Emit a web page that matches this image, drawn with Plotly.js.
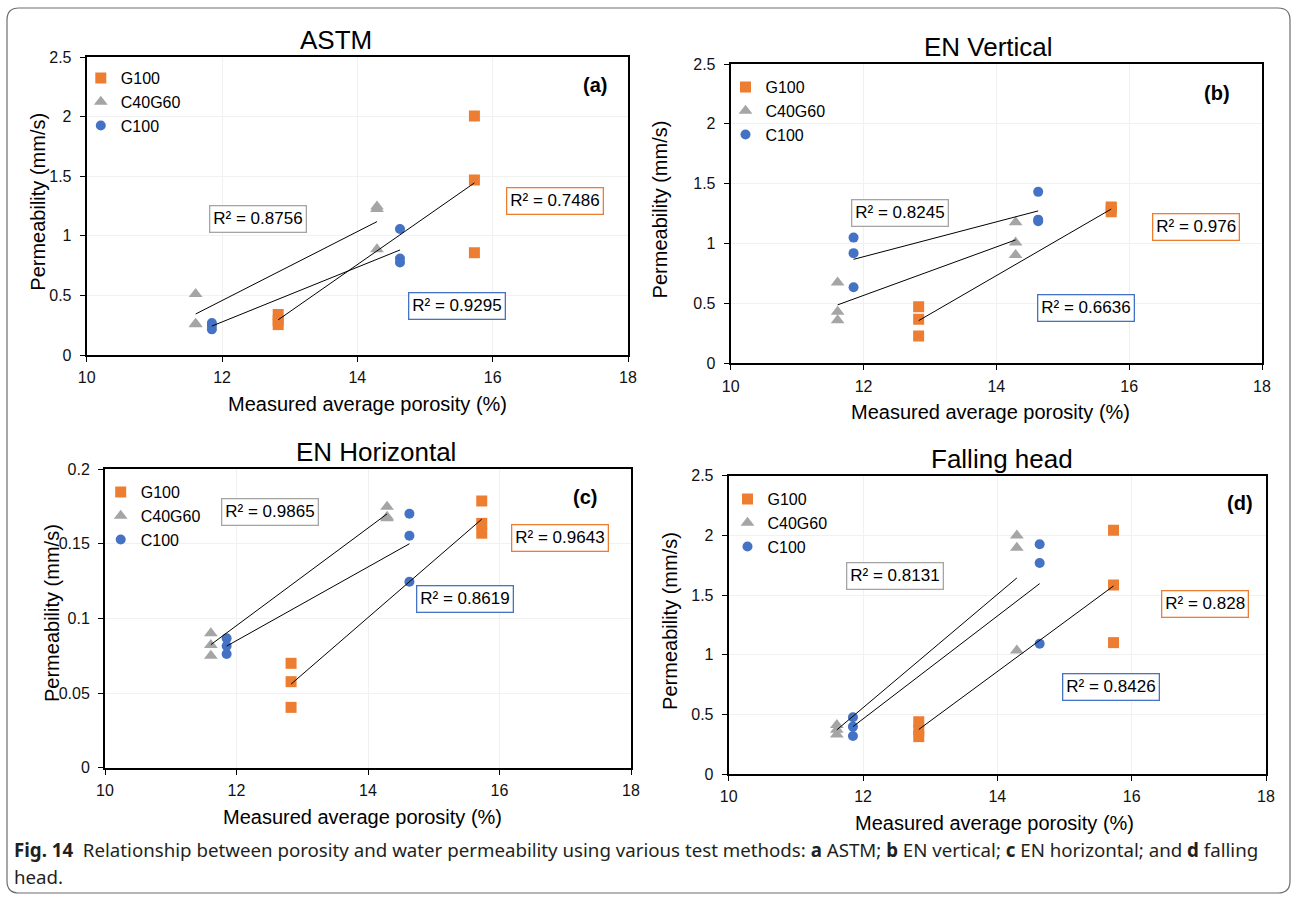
<!DOCTYPE html>
<html>
<head>
<meta charset="utf-8">
<script src="https://cdn.plot.ly/plotly-3.0.1.min.js"></script>
<style>
html,body{margin:0;padding:0;background:#ffffff;}
#chart{width:1293px;height:904px;}
</style>
</head>
<body>
<div id="chart"></div>
<script>
// ---------------- DATA ----------------
const mixNames = ['G100', 'C40G60', 'C100'];
const panelTitles = ['ASTM', 'EN Vertical', 'EN Horizontal', 'Falling head'];
const panelLetters = ['(a)', '(b)', '(c)', '(d)'];
const xTitle = 'Measured average porosity (%)';
const yTitle = 'Permeability (mm/s)';

// measured average porosity (%) of each specimen (3 replicates x 2 levels)
const porosityG100   = [12.83, 12.83, 12.83, 15.73, 15.73, 15.73];
const porosityC40G60 = [11.61, 11.61, 11.61, 14.29, 14.29, 14.29];
const porosityC100   = [11.85, 11.85, 11.85, 14.63, 14.63, 14.63];

// (a) ASTM permeability (mm/s)
const astmG100   = [0.340, 0.290, 0.255, 2.005, 1.468, 0.858];
const astmC40G60 = [0.512, 0.262, 0.258, 1.245, 1.225, 0.887];
const astmC100   = [0.268, 0.245, 0.215, 1.057, 0.810, 0.776];
const astmR2     = ['R² = 0.7486', 'R² = 0.8756', 'R² = 0.9295'];   // G100, C40G60, C100

// (b) EN vertical permeability (mm/s)
const envG100    = [0.473, 0.368, 0.228, 1.305, 1.295, 1.265];
const envC40G60  = [0.674, 0.430, 0.360, 1.179, 1.008, 0.905];
const envC100    = [1.050, 0.920, 0.635, 1.432, 1.200, 1.187];
const envR2      = ['R² = 0.976', 'R² = 0.8245', 'R² = 0.6636'];

// (c) EN horizontal permeability (mm/s)
const enhG100    = [0.0699, 0.0576, 0.0404, 0.1786, 0.1636, 0.1570];
const enhC40G60  = [0.0900, 0.0822, 0.0750, 0.1748, 0.1680, 0.1670];
const enhC100    = [0.0866, 0.0815, 0.0761, 0.1700, 0.1553, 0.1245];
const enhR2      = ['R² = 0.9643', 'R² = 0.9865', 'R² = 0.8619'];

// (d) Falling head permeability (mm/s)
const fhG100     = [0.438, 0.369, 0.313, 2.043, 1.584, 1.101];
const fhC40G60   = [0.410, 0.370, 0.330, 1.998, 1.897, 1.034];
const fhC100     = [0.475, 0.397, 0.318, 1.925, 1.769, 1.092];
const fhR2       = ['R² = 0.828', 'R² = 0.8131', 'R² = 0.8426'];

const xRange = [10, 18];
const yRanges = [[0, 2.5], [0, 2.5], [0, 0.2], [0, 2.5]];
const yDticks = [0.5, 0.5, 0.05, 0.5];

const caption1 = '<b>Fig. 14</b>\u00A0\u00A0Relationship between porosity and water permeability using various test methods: <b>a</b> ASTM; <b>b</b> EN vertical; <b>c</b> EN horizontal; and <b>d</b> falling';
const caption2 = 'head.';

// ---------------- STYLE / GEOMETRY ----------------
const W = 1293, H = 904;
const PX = v => v / W;
const PY = v => 1 - v / H;
const FONT = 'Liberation Sans, Arial, sans-serif';
const CAPFONT = 'Noto Sans, Open Sans, sans-serif';
const colors  = ['#ED7D31', '#A5A5A5', '#4472C4'];
const symbols = ['square', 'triangle-up', 'circle'];
const msizes  = [11, 12, 10];

// plot areas in pixels: left, right, top, bottom
const boxes = [
  {l: 86.7, r: 628, t: 57, b: 355},
  {l: 730.7, r: 1262, t: 64, b: 363.3},
  {l: 105, r: 631, t: 469, b: 767.7},
  {l: 728.7, r: 1266, t: 475.7, b: 774}
];
const titlePos  = [[336, 39.6], [988, 46.5], [375.8, 451.7], [1001.7, 458.5]];
const letterPos = [[595, 85.5], [1216.8, 93.3], [584.6, 496.7], [1239.8, 503.3]];
const xTitlePos = [[367.3, 404.3], [990.7, 411.7], [362.8, 816.7], [994, 823.3]];
const yTitlePos = [[37.7, 202], [660.4, 209], [52.7, 613.3], [669.2, 620.7]];
// R² box centers: G100 (orange), C40G60 (gray), C100 (blue)
const r2Pos = [
  [[554.5, 200.8], [258.3, 219.3], [457, 305.5]],
  [[1196, 227.5], [900, 213], [1085.9, 307.8]],
  [[559.5, 537.5], [269.7, 511.7], [464.6, 599.2]],
  [[1204.8, 603.8], [895.3, 575.7], [1110.9, 687]]
];
const legendPos = [[107.8, 75], [752.5, 84], [127.7, 489], [754.5, 496]];

const porosity = [porosityG100, porosityC40G60, porosityC100];
const panelData = [
  [astmG100, astmC40G60, astmC100],
  [envG100, envC40G60, envC100],
  [enhG100, enhC40G60, enhC100],
  [fhG100, fhC40G60, fhC100]
];
const panelR2 = [astmR2, envR2, enhR2, fhR2];

function fitLine(xs, ys) {
  const n = xs.length;
  const mx = xs.reduce((a, b) => a + b, 0) / n;
  const my = ys.reduce((a, b) => a + b, 0) / n;
  let sxy = 0, sxx = 0;
  for (let i = 0; i < n; i++) { sxy += (xs[i] - mx) * (ys[i] - my); sxx += (xs[i] - mx) ** 2; }
  const k = sxy / sxx, c = my - k * mx;
  const x0 = Math.min(...xs), x1 = Math.max(...xs);
  return {x: [x0, x1], y: [c + k * x0, c + k * x1]};
}

const traces = [];
const layout = {
  width: W, height: H,
  margin: {l: 0, r: 0, t: 0, b: 0},
  paper_bgcolor: '#ffffff', plot_bgcolor: '#ffffff',
  font: {family: FONT, color: '#000'},
  annotations: [], shapes: []
};

panelData.forEach((series, p) => {
  const sfx = p === 0 ? '' : String(p + 1);
  const legName = 'legend' + sfx;
  const bx = boxes[p];
  // markers
  series.forEach((ys, m) => {
    traces.push({
      type: 'scatter', mode: 'markers', name: mixNames[m],
      x: porosity[m], y: ys, xaxis: 'x' + sfx, yaxis: 'y' + sfx,
      legend: legName, showlegend: true, hoverinfo: 'skip',
      marker: {symbol: symbols[m], color: colors[m], size: msizes[m], line: {width: 0}}
    });
  });
  // linear trendlines
  series.forEach((ys, m) => {
    const f = fitLine(porosity[m], ys);
    traces.push({
      type: 'scatter', mode: 'lines', name: mixNames[m] + ' trend',
      x: f.x, y: f.y, xaxis: 'x' + sfx, yaxis: 'y' + sfx,
      showlegend: false, hoverinfo: 'skip',
      line: {color: '#000', width: 1}
    });
  });

  layout['xaxis' + sfx] = {
    domain: [PX(bx.l), PX(bx.r)], anchor: 'y' + sfx,
    range: xRange, dtick: 2, tick0: 10,
    showline: true, mirror: true, linecolor: '#000', linewidth: 2,
    ticks: 'outside', ticklen: 5, tickcolor: '#000', tickwidth: 1,
    tickfont: {family: FONT, size: 16, color: '#111'}, ticklabelstandoff: 2,
    showgrid: true, gridcolor: '#f1f1f1', gridwidth: 1, zeroline: false, fixedrange: true
  };
  layout['yaxis' + sfx] = {
    domain: [PY(bx.b), PY(bx.t)], anchor: 'x' + sfx,
    range: yRanges[p], dtick: yDticks[p], tick0: 0,
    showline: true, mirror: true, linecolor: '#000', linewidth: 2,
    ticks: 'outside', ticklen: 5, tickcolor: '#000', tickwidth: 1,
    tickfont: {family: FONT, size: 16, color: '#111'}, ticklabelstandoff: 5,
    showgrid: true, gridcolor: '#f1f1f1', gridwidth: 1, zeroline: false, fixedrange: true
  };

  layout[legName] = {
    x: PX(legendPos[p][0] - 27), y: PY(legendPos[p][1] - 14),
    xanchor: 'left', yanchor: 'top', xref: 'paper', yref: 'paper',
    bgcolor: 'rgba(0,0,0,0)', borderwidth: 0,
    font: {family: FONT, size: 16, color: '#000'}, itemclick: false
  };

  const A = layout.annotations;
  A.push({xref: 'paper', yref: 'paper', x: PX(titlePos[p][0]), y: PY(titlePos[p][1]),
    xanchor: 'center', yanchor: 'middle', showarrow: false, text: panelTitles[p],
    font: {family: FONT, size: 26, color: '#000'}});
  A.push({xref: 'paper', yref: 'paper', x: PX(letterPos[p][0]), y: PY(letterPos[p][1]),
    xanchor: 'center', yanchor: 'middle', showarrow: false, text: '<b>' + panelLetters[p] + '</b>',
    font: {family: FONT, size: 20, color: '#000'}});
  A.push({xref: 'paper', yref: 'paper', x: PX(xTitlePos[p][0]), y: PY(xTitlePos[p][1]),
    xanchor: 'center', yanchor: 'middle', showarrow: false, text: xTitle,
    font: {family: FONT, size: 20, color: '#000'}});
  A.push({xref: 'paper', yref: 'paper', x: PX(yTitlePos[p][0]), y: PY(yTitlePos[p][1]),
    xanchor: 'center', yanchor: 'middle', showarrow: false, text: yTitle, textangle: -90,
    font: {family: FONT, size: 20, color: '#000'}});
  panelR2[p].forEach((txt, m) => {
    A.push({xref: 'paper', yref: 'paper', x: PX(r2Pos[p][m][0]), y: PY(r2Pos[p][m][1]),
      xanchor: 'center', yanchor: 'middle', showarrow: false, text: txt,
      font: {family: FONT, size: 17, color: '#000'},
      bgcolor: '#ffffff', bordercolor: colors[m], borderwidth: 1.3, borderpad: 3});
  });
});

// caption
layout.annotations.push({xref: 'paper', yref: 'paper', x: PX(12), y: PY(849),
  xanchor: 'left', yanchor: 'middle', showarrow: false, text: caption1, align: 'left',
  font: {family: CAPFONT, size: 18.7, color: '#231f20'}});
layout.annotations.push({xref: 'paper', yref: 'paper', x: PX(12), y: PY(876),
  xanchor: 'left', yanchor: 'middle', showarrow: false, text: caption2, align: 'left',
  font: {family: CAPFONT, size: 18.7, color: '#231f20'}});

// outer rounded frame
(function () {
  const L = 7, T = 8, R = 1290, B = 893, r = 12;
  const X = v => PX(v).toFixed(5), Y = v => PY(v).toFixed(5);
  const path = `M ${X(L + r)},${Y(T)} L ${X(R - r)},${Y(T)} Q ${X(R)},${Y(T)} ${X(R)},${Y(T + r)} ` +
    `L ${X(R)},${Y(B - r)} Q ${X(R)},${Y(B)} ${X(R - r)},${Y(B)} L ${X(L + r)},${Y(B)} ` +
    `Q ${X(L)},${Y(B)} ${X(L)},${Y(B - r)} L ${X(L)},${Y(T + r)} Q ${X(L)},${Y(T)} ${X(L + r)},${Y(T)} Z`;
  layout.shapes.push({type: 'path', xref: 'paper', yref: 'paper', path: path,
    line: {color: '#6d6d6d', width: 1.2}, layer: 'below'});
})();

Plotly.newPlot('chart', traces, layout, {staticPlot: true, displayModeBar: false});
</script>
</body>
</html>
